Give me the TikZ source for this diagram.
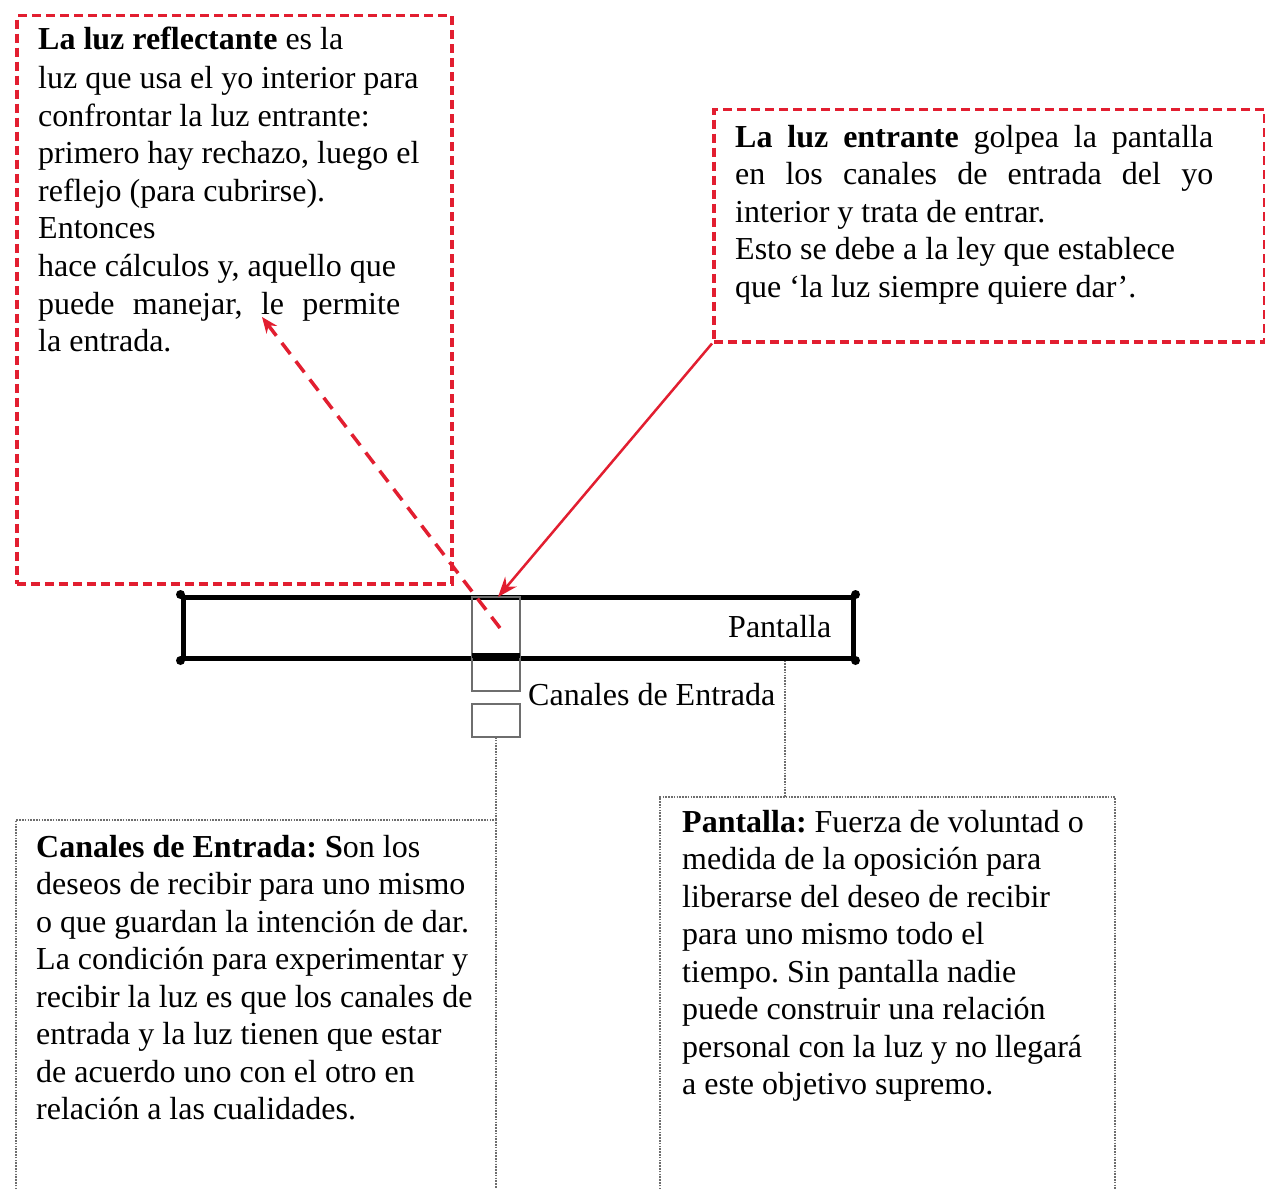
\documentclass[tikz,border=0pt]{standalone}
\usepackage{fontspec}
\setmainfont{Liberation Serif}
\usetikzlibrary{arrows.meta}
\definecolor{lred}{RGB}{226,30,48}
\definecolor{dotgray}{RGB}{110,110,110}
\definecolor{chgray}{RGB}{110,110,110}
\newcommand\resetspacing{\spaceskip=0pt\xspaceskip=0pt\frenchspacing}
\begin{document}
\begin{tikzpicture}[x=1pt,y=-1pt,
  every node/.style={font=\fontsize{32}{37.5}\selectfont, inner sep=0pt},
  redbox/.style={draw=lred, line width=3.5pt, dash pattern=on 9pt off 5pt, anchor=north west},
  txt/.style={anchor=base west, align=left},
  dotline/.style={draw=dotgray, line width=1.6pt, dash pattern=on 1.6pt off 1.2pt},
  chan/.style={draw=chgray, line width=2pt}
]
\useasboundingbox[fill=white] (0,0) rectangle (1265,1188);

% red dashed boxes
\node[redbox, minimum width=435pt, minimum height=568pt] (reflbox) at (15,14) {};
\node[redbox, minimum width=551pt, minimum height=232pt] (entbox) at (712,108) {};

% texts in red boxes
\node[txt, text width=600pt] (refltext) at (38,50) {\resetspacing\textbf{La luz reflectante} es la\\[1.5pt]
luz que usa el yo interior para\\
confrontar la luz entrante:\\
primero hay rechazo, luego el\\
reflejo (para cubrirse).\\
Entonces\\
hace cálculos y, aquello que\\
\makebox[362pt][s]{puede manejar, le permite}\\
la entrada.};

\node[txt, text width=600pt] (enttext) at (735,147) {\resetspacing\makebox[478pt][s]{\textbf{La luz entrante} golpea la pantalla}\\
\makebox[478pt][s]{en los canales de entrada del yo}\\
interior y trata de entrar.\\
Esto se debe a la ley que establece\\
que ‘la luz siempre quiere dar’.};

% pantalla bar
\node[draw=black, line width=5pt, minimum width=670pt, minimum height=61pt] (pantalla) at (518,627.5) {};
\foreach \c in {north west, north east, south west, south east}
  \fill (pantalla.\c) circle (4.5pt);
\node[anchor=base west] (pantlabel) at (728,637) {Pantalla};

% channel
\draw[chan] (472,597) rectangle (520,691);
\draw[chan] (472,704) rectangle (520,737);
\draw[line width=5pt] (472,655) -- (520,655);
\coordinate (chbot) at (496,737);
\coordinate (chin) at (500,628);
\coordinate (chtop) at (498,597);
\node[anchor=base west] (chlabel) at (528,705) {Canales de Entrada};

% arrows
\draw[lred, line width=2.5pt, -{Stealth[length=20pt,width=15pt]}] (entbox.south west) -- (chtop);
\coordinate (refltip) at (262,317);
\draw[lred, line width=3.5pt, dash pattern=on 14pt off 9pt, -{Stealth[length=16pt,width=13pt]}] (chin) -- (refltip);

% dotted boxes bottom
\coordinate (cbtop) at (496,820);
\draw[dotline] (chbot) -- (cbtop);
\draw[dotline] (16,1192) -- (16,820) -- (cbtop) -- (496,1192);
\coordinate (pbtop) at (785,797);
\draw[dotline] (pantalla.south -| pbtop) -- (pbtop);
\draw[dotline] (660,1192) -- (660,797) -- (1115,797) -- (1115,1192);

\node[txt, text width=600pt] (chtext) at (36,857) {\resetspacing\textbf{Canales de Entrada: S}on los\\
deseos de recibir para uno mismo\\
o que guardan la intención de dar.\\
La condición para experimentar y\\
recibir la luz es que los canales de\\
entrada y la luz tienen que estar\\
de acuerdo uno con el otro en\\
relación a las cualidades.};

\node[txt, text width=600pt] (pttext) at (682,832) {\resetspacing\textbf{Pantalla:} Fuerza de voluntad o\\
medida de la oposición para\\
liberarse del deseo de recibir\\
para uno mismo todo el\\
tiempo. Sin pantalla nadie\\
puede construir una relación\\
personal con la luz y no llegará\\
a este objetivo supremo.};
\end{tikzpicture}
\end{document}
